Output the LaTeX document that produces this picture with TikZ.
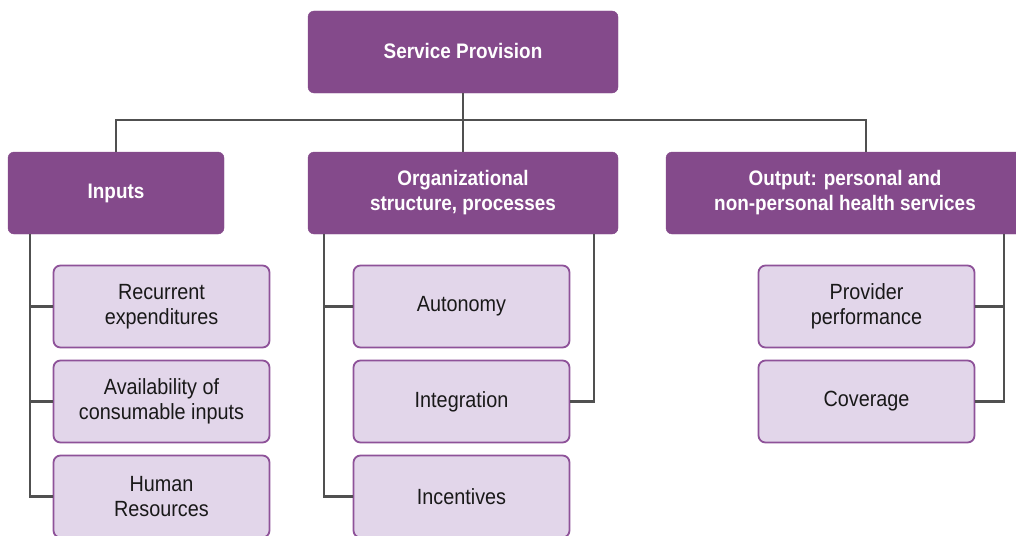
\documentclass[tikz,border=0pt]{standalone}
\usepackage{fontspec}
\setmainfont{Liberation Sans}[FakeStretch=0.9]
\definecolor{hdr}{HTML}{844A8B}
\definecolor{sub}{HTML}{E2D6EA}
\definecolor{subline}{HTML}{8E5299}
\definecolor{conn}{HTML}{505050}
\begin{document}
\begin{tikzpicture}[x=1pt,y=-1pt,
  hbox/.style={draw=hdr,fill=hdr,rounded corners=6pt,text=white,align=center,
    font=\fontsize{21}{25}\selectfont\bfseries,minimum height=82pt,inner sep=0pt},
  sbox/.style={draw=subline,line width=1.8pt,fill=sub,rounded corners=7pt,text=black!90,align=center,
    font=\fontsize{22}{25}\selectfont,minimum width=216pt,minimum height=82pt,inner sep=0pt},
  link/.style={draw=conn,line width=2.2pt}]
\useasboundingbox (0,0) rectangle (1016,535);
\node[hbox,minimum width=310pt] (top) at (463,52) {\raisebox{3pt}{Service Provision}};
\node[hbox,minimum width=216pt] (inp) at (116,193) {Inputs};
\node[hbox,minimum width=310pt] (org) at (463,193) {Organizational\\structure, processes};
\node[hbox,minimum width=358pt] (out) at (845,193) {Output: personal and\\non-personal health services};
\node[sbox] (rec) at (161.5,306.5) {Recurrent\\expenditures};
\node[sbox] (ava) at (161.5,401.5) {Availability of\\consumable inputs};
\node[sbox] (hum) at (161.5,496.5) {Human\\Resources};
\node[sbox] (aut) at (461.5,306.5) {Autonomy};
\node[sbox] (int) at (461.5,401.5) {Integration};
\node[sbox] (inc) at (461.5,496.5) {Incentives};
\node[sbox] (pro) at (866.5,306.5) {Provider\\performance};
\node[sbox] (cov) at (866.5,401.5) {Coverage};
\draw[link] (top.south) -- ++(0,27) coordinate (j);
\draw[link] (inp.north) |- (j) -| ([xshift=21pt]out.north);
\draw[link] (j) -- (org.north);
\draw[link] ([xshift=22pt]inp.south west) |- (hum.west);
\draw[link] (rec.west) -- ++(-23,0);
\draw[link] (ava.west) -- ++(-23,0);
\draw[link] ([xshift=16pt]org.south west) |- (inc.west);
\draw[link] (aut.west) -- ++(-29,0);
\draw[link] ([xshift=-24pt]org.south east) |- (int.east);
\draw[link] ([xshift=-20pt]out.south east) |- (cov.east);
\draw[link] (pro.east) -- ++(29,0);
\end{tikzpicture}
\end{document}
